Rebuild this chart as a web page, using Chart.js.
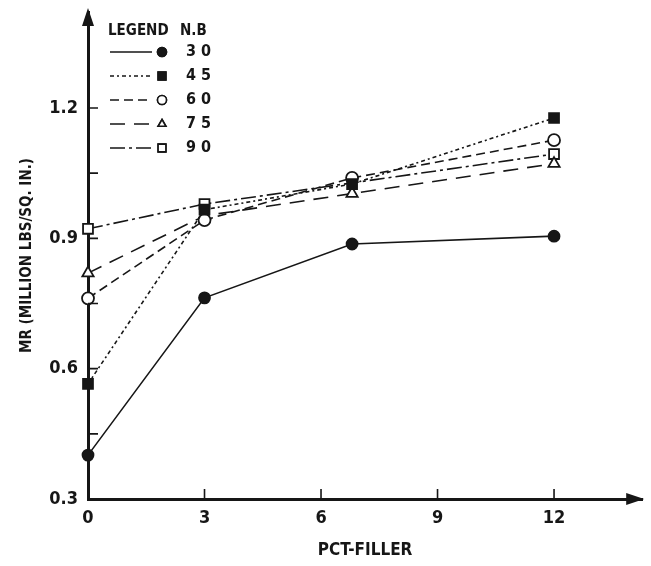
<!DOCTYPE html>
<html>
<head>
<meta charset="utf-8">
<title>MR vs PCT-FILLER</title>
<script src="https://cdn.jsdelivr.net/npm/chart.js@4.4.1/dist/chart.umd.min.js"></script>
<style>
    html, body { margin: 0; padding: 0; background: #fff; }
    #wrap { width: 651px; height: 566px; position: relative; }
</style>
</head>
<body>
<div id="wrap"><canvas id="mrChart"></canvas></div>
<script>
/* ── data ── */
var pctFiller = [0, 3, 6.8, 12];
var pctFiller90 = [0, 3, 12];
var nbLabels = ['30', '45', '60', '75', '90'];
var mr30 = [0.401, 0.763, 0.887, 0.905];
var mr45 = [0.565, 0.966, 1.025, 1.177];
var mr60 = [0.762, 0.942, 1.039, 1.126];
var mr75 = [0.820, 0.952, 1.003, 1.072];
var mr90 = [0.922, 0.979, 1.094];
var xTickValues = [0, 3, 6, 9, 12];
var yTickValues = [0.3, 0.6, 0.9, 1.2];
var yMinorValues = [0.45, 0.6, 0.75, 0.9, 1.05, 1.2];

var INK = '#161616';
var FONT = "'DejaVu Sans Condensed', 'DejaVu Sans', sans-serif";

function pts(xs, ys) {
    return ys.map(function (v, i) { return { x: xs[i], y: v }; });
}

/* ── one dataset per N.B value ── */
function series(label, xs, ys, dash, style, radius, filled) {
    return {
        label: label,
        data: pts(xs, ys),
        borderColor: INK,
        borderWidth: 1.6,
        borderDash: dash,
        pointStyle: style,
        pointRadius: radius,
        pointBorderWidth: 1.8,
        pointBorderColor: INK,
        pointBackgroundColor: filled ? INK : '#fff',
        showLine: true,
        tension: 0,
        clip: false
    };
}

/* ── axis arrows, inward ticks ── */
var axisDecor = {
    id: 'axisDecor',
    afterDraw: function (chart) {
        var ctx = chart.ctx, a = chart.chartArea;
        var xs = chart.scales.x, ys = chart.scales.y;
        ctx.save();
        ctx.fillStyle = INK;
        ctx.strokeStyle = INK;
        // y arrow
        ctx.beginPath();
        ctx.moveTo(a.left, a.top - 4);
        ctx.lineTo(a.left - 6, a.top + 14);
        ctx.lineTo(a.left + 6, a.top + 14);
        ctx.closePath();
        ctx.fill();
        // x arrow
        ctx.beginPath();
        ctx.moveTo(a.right + 2, a.bottom);
        ctx.lineTo(a.right - 16, a.bottom - 6);
        ctx.lineTo(a.right - 16, a.bottom + 6);
        ctx.closePath();
        ctx.fill();
        // ticks
        ctx.lineWidth = 1.6;
        ctx.beginPath();
        xTickValues.forEach(function (v) {
            if (v === 0) return;
            var px = xs.getPixelForValue(v);
            ctx.moveTo(px, a.bottom);
            ctx.lineTo(px, a.bottom - 10);
        });
        yMinorValues.forEach(function (v) {
            var py = ys.getPixelForValue(v);
            ctx.moveTo(a.left, py);
            ctx.lineTo(a.left + 10, py);
        });
        ctx.stroke();
        ctx.restore();
    }
};

/* ── legend box, top left ── */
var legendBox = {
    id: 'legendBox',
    afterDraw: function (chart) {
        var ctx = chart.ctx;
        var x0 = 108, y0 = 31, rowH = 24;
        ctx.save();
        ctx.fillStyle = INK;
        ctx.textBaseline = 'middle';
        ctx.font = 'bold 15px ' + FONT;
        ctx.fillText('LEGEND', x0, y0);
        ctx.fillText('N.B', 180, y0);
        chart.data.datasets.forEach(function (ds, i) {
            var y = y0 + 21 + i * rowH;
            ctx.strokeStyle = INK;
            ctx.lineWidth = 1.6;
            ctx.setLineDash(ds.borderDash || []);
            ctx.beginPath();
            ctx.moveTo(110, y);
            ctx.lineTo(152, y);
            ctx.stroke();
            ctx.setLineDash([]);
            Chart.helpers.drawPoint(ctx, {
                pointStyle: ds.pointStyle,
                radius: ds.pointStyle === 'rect' ? 5.5 : 4.5,
                borderWidth: 1.6
            }, 162, y);
            ctx.fillStyle = ds.pointBackgroundColor;
            ctx.fill();
            ctx.stroke();
            ctx.fillStyle = INK;
            ctx.font = 'bold 16px ' + FONT;
            ctx.fillText(nbLabels[i].split('').join(' '), 186, y);
        });
        ctx.restore();
    }
};

new Chart(document.getElementById('mrChart'), {
    type: 'scatter',
    data: {
        datasets: [
            series(nbLabels[0], pctFiller, mr30, [], 'circle', 5.5, true),
            series(nbLabels[1], pctFiller, mr45, [4, 3, 2, 3], 'rect', 7, true),
            series(nbLabels[2], pctFiller, mr60, [9, 5], 'circle', 6, false),
            series(nbLabels[3], pctFiller, mr75, [15, 9], 'triangle', 6.5, false),
            series(nbLabels[4], pctFiller90, mr90, [15, 4, 3, 4], 'rect', 7, false)
        ]
    },
    options: {
        responsive: true,
        maintainAspectRatio: false,
        animation: false,
        layout: { padding: { left: 0, top: 12, right: -4, bottom: 0 } },
        plugins: {
            legend: { display: false },
            tooltip: { enabled: false }
        },
        scales: {
            x: {
                type: 'linear',
                min: 0,
                max: 14.27,
                afterBuildTicks: function (s) {
                    s.ticks = xTickValues.map(function (v) { return { value: v }; });
                },
                afterFit: function (s) {
                    s.height = 67;
                    s.paddingLeft = 0;
                    s.paddingRight = 0;
                },
                grid: { display: false, drawTicks: false },
                border: { color: INK, width: 3 },
                ticks: {
                    color: INK,
                    padding: 9,
                    maxRotation: 0,
                    font: { family: FONT, size: 18, weight: 'bold' }
                },
                title: {
                    display: true,
                    text: 'PCT-FILLER',
                    color: INK,
                    padding: { top: 5, bottom: 5 },
                    font: { family: FONT, size: 17, weight: 'bold' }
                }
            },
            y: {
                type: 'linear',
                min: 0.3,
                max: 1.421,
                afterBuildTicks: function (s) {
                    s.ticks = yTickValues.map(function (v) { return { value: v }; });
                },
                afterFit: function (s) {
                    s.width = 88;
                    s.paddingTop = 0;
                    s.paddingBottom = 0;
                },
                grid: { display: false, drawTicks: false },
                border: { color: INK, width: 3 },
                ticks: {
                    color: INK,
                    padding: 10,
                    font: { family: FONT, size: 18, weight: 'bold' },
                    callback: function (v) { return v.toFixed(1); }
                },
                title: {
                    display: true,
                    text: 'MR (MILLION LBS/SQ. IN.)',
                    color: INK,
                    padding: { top: 18, bottom: 0 },
                    font: { family: FONT, size: 15, weight: 'bold' }
                }
            }
        }
    },
    plugins: [axisDecor, legendBox]
});
</script>
</body>
</html>
